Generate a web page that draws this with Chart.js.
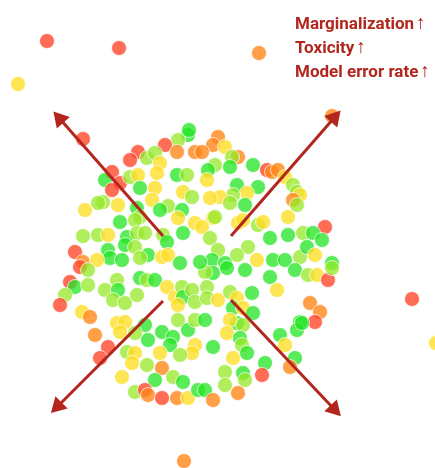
<!DOCTYPE html>
<html lang="en">
<head>
  <meta charset="UTF-8">
  <title>Scatter cluster</title>
  <script src="https://cdn.jsdelivr.net/npm/chart.js"></script>
  <style>
    html, body { margin: 0; padding: 0; background: #fff; }
    #wrap { position: relative; width: 435px; height: 468px; }
    #labels {
      position: absolute; left: 295px; top: 11px;
      font-family: Roboto, sans-serif; font-weight: 700; font-size: 17px;
      line-height: 23px; color: #b3261e; white-space: nowrap;
    }
    #labels span { font-weight: 400; font-size: 19px; margin-left: 2px; }
  </style>
</head>
<body>
  <div id="wrap">
    <canvas id="chart" width="435" height="468"></canvas>
    <div id="labels">
      <div>Marginalization<span>↑</span></div>
      <div>Toxicity<span>↑</span></div>
      <div>Model error rate<span>↑</span></div>
    </div>
  </div>

  <script>
    // point positions (x right, y down) and a 0..5 level (green -> red)
    const xs = [83,188,178,165,177,195,138,130,147,155,160,112,105,120,112,130,138,140,157,177,187,155,183,192,152,103,98,118,85,137,168,160,182,140,120,135,178,195,83,98,108,127,137,145,163,167,183,125,135,75,108,148,140,162,168,110,122,83,97,180,
      218,213,225,202,238,232,215,208,230,207,253,267,272,278,285,237,258,247,233,220,210,230,245,293,297,300,293,297,288,213,215,238,243,258,263,202,325,288,303,313,322,210,270,248,218,237,257,273,285,300,307,315,212,225,332,
      80,88,70,75,65,60,88,105,117,118,113,125,137,140,147,155,167,175,182,183,192,195,178,82,90,117,125,120,95,108,100,145,135,148,162,173,170,178,188,195,195,192,180,127,135,132,147,160,162,173,155,183,122,135,145,148,162,177,188,198,
      213,227,245,270,277,295,308,317,328,332,207,207,218,230,237,233,243,252,253,237,230,205,227,243,240,242,213,233,247,225,243,245,265,262,280,285,295,290,310,320,315,300,297,302,205,225,213,238,
      205,200,332,189,
      47,119,259,18,412,184,436];
    const ys = [139,135,140,145,152,152,152,160,158,153,163,172,180,183,190,177,175,188,173,175,175,188,192,197,200,202,203,205,210,208,206,210,210,217,222,220,218,223,236,235,235,237,233,233,235,242,233,245,247,252,250,255,258,257,255,258,260,262,260,263,
      137,145,147,152,157,157,165,170,167,180,165,170,172,170,177,185,187,193,195,197,198,203,205,185,192,195,200,205,217,218,217,223,220,225,222,227,227,235,233,233,240,238,238,247,250,255,260,260,260,257,247,255,260,263,263,
      267,270,282,287,295,305,285,290,280,290,300,303,295,278,280,280,287,297,287,297,290,302,305,312,317,323,322,332,335,347,358,325,333,340,332,337,345,320,330,320,345,353,355,352,353,363,365,353,368,377,380,382,377,392,390,395,398,398,398,390,
      273,268,270,277,290,270,275,275,280,268,287,298,300,292,298,308,308,293,313,323,320,320,333,325,338,345,347,358,353,372,373,380,363,375,335,345,358,367,303,312,322,322,330,323,390,385,400,393,
      272,262,116,130,
      41,48,53,84,299,461,343];
    const levels = [5,0,1,5,4,4,5,5,1,1,3,5,0,5,5,1,3,0,3,0,1,3,3,1,3,1,1,3,3,0,1,0,0,1,0,1,3,3,1,1,3,0,1,1,1,0,0,0,1,5,0,0,1,3,3,0,0,4,3,0,
      4,4,3,4,4,1,1,0,0,3,0,5,4,4,3,0,0,3,1,3,3,1,0,1,1,3,4,1,3,3,1,3,3,1,3,3,5,0,1,0,0,1,0,1,1,1,3,0,0,1,0,3,0,0,0,
      5,1,5,0,1,5,1,1,1,0,1,1,1,0,1,0,3,3,1,0,1,1,3,3,4,3,3,3,4,5,5,0,1,0,0,0,0,1,0,1,3,3,1,1,3,3,1,3,4,1,0,0,3,1,5,4,5,4,3,0,
      0,0,0,0,3,0,1,3,5,1,1,1,3,1,3,0,3,0,0,0,3,0,3,1,0,1,0,3,0,1,0,1,0,5,0,3,0,4,4,4,5,0,0,0,0,1,4,4,
      1,0,4,0,
      5,5,4,3,5,4,3];
    const palette = [
      'rgba(35,228,35,0.75)',
      'rgba(150,232,40,0.75)',
      'rgba(205,232,40,0.75)',
      'rgba(252,222,40,0.8)',
      'rgba(255,135,25,0.8)',
      'rgba(255,72,45,0.8)'
    ];

    // four arrows: start point and head centre
    const arrowStart = [[163,236],[231,236],[163,301],[231,300]];
    const arrowEnd = [[60,119],[334,118],[58,406],[334,409]];
    const arrowColor = '#b3261e';

    const points = xs.map((x, i) => ({ x: x, y: ys[i] }));

    const arrowSets = arrowStart.map((s, i) => {
      const e = arrowEnd[i];
      const angle = Math.atan2(e[0] - s[0], -(e[1] - s[1])) * 180 / Math.PI;
      return {
        type: 'line',
        data: [{ x: s[0], y: s[1] }, { x: e[0], y: e[1] }],
        borderColor: arrowColor,
        backgroundColor: arrowColor,
        borderWidth: 3,
        pointStyle: [false, 'triangle'],
        pointRadius: [0, 10],
        pointRotation: [0, angle],
        pointBorderWidth: 0,
        pointBackgroundColor: arrowColor,
        clip: false,
        order: 0
      };
    });

    new Chart(document.getElementById('chart'), {
      type: 'scatter',
      data: {
        datasets: [{
          data: points,
          pointRadius: 7.5,
          pointBackgroundColor: levels.map(l => palette[l]),
          pointBorderColor: 'rgba(255,255,255,0.7)',
          pointBorderWidth: 1,
          clip: false,
          order: 1
        }, ...arrowSets]
      },
      options: {
        responsive: false,
        animation: false,
        layout: { padding: 0, autoPadding: false },
        plugins: { legend: { display: false }, tooltip: { enabled: false } },
        scales: {
          x: { type: 'linear', min: 0, max: 435, display: false },
          y: { type: 'linear', min: 0, max: 468, reverse: true, display: false }
        }
      }
    });
  </script>
</body>
</html>
